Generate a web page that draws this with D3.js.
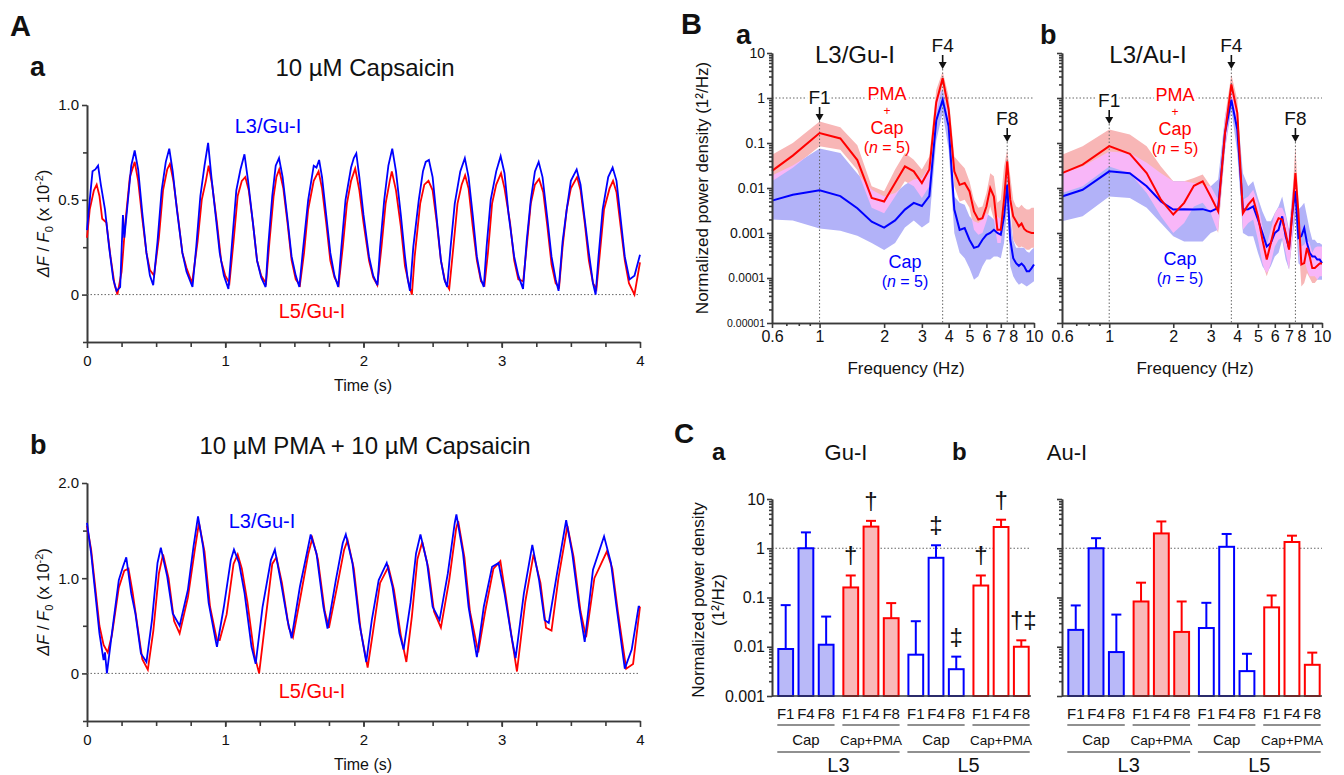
<!DOCTYPE html>
<html>
<head>
<meta charset="utf-8">
<script src="https://cdn.jsdelivr.net/npm/d3@7"></script>
<style>
  body { margin: 0; background: #fff; }
  svg text { font-family: "Liberation Sans", Arial, Helvetica, sans-serif; }
</style>
</head>
<body>
<svg id="fig" width="1344" height="775"></svg>
<script>
// ---------- Panel A: calcium traces, [time (s), dF/F0 (x 10^-2)] ----------
const capBlue = [[0,0.34],[0.02,0.50],[0.04,0.65],[0.06,0.66],[0.08,0.68],[0.10,0.58],[0.13,0.45],[0.16,0.25],[0.19,0.08],[0.214,0.02],[0.24,0.04],[0.26,0.42],[0.27,0.30],[0.29,0.45],[0.32,0.68],[0.345,0.76],[0.37,0.66],[0.40,0.43],[0.43,0.22],[0.455,0.10],[0.479,0.05],
  [0.51,0.28],[0.54,0.55],[0.57,0.70],[0.595,0.77],[0.62,0.65],[0.65,0.45],[0.69,0.22],[0.72,0.12],[0.763,0.04],
  [0.79,0.25],[0.82,0.52],[0.85,0.68],[0.876,0.80],[0.90,0.62],[0.93,0.42],[0.96,0.22],[0.99,0.10],[1.023,0.03],
  [1.05,0.28],[1.08,0.55],[1.11,0.66],[1.139,0.74],[1.165,0.60],[1.20,0.38],[1.23,0.18],[1.26,0.09],[1.292,0.04],
  [1.31,0.25],[1.34,0.52],[1.365,0.68],[1.389,0.72],[1.415,0.62],[1.45,0.40],[1.48,0.20],[1.51,0.10],[1.536,0.04],
  [1.56,0.22],[1.60,0.50],[1.64,0.68],[1.66,0.67],[1.679,0.71],[1.70,0.62],[1.73,0.42],[1.76,0.22],[1.79,0.10],[1.817,0.04],
  [1.84,0.25],[1.87,0.50],[1.91,0.67],[1.93,0.72],[1.948,0.745],[1.97,0.62],[2.00,0.42],[2.04,0.20],[2.07,0.10],[2.101,0.05],
  [2.12,0.25],[2.15,0.50],[2.18,0.68],[2.208,0.77],[2.235,0.65],[2.27,0.42],[2.30,0.20],[2.32,0.08],[2.336,0.02],
  [2.36,0.25],[2.40,0.50],[2.43,0.65],[2.45,0.70],[2.473,0.71],[2.50,0.62],[2.53,0.40],[2.56,0.18],[2.585,0.08],[2.605,0.04],
  [2.63,0.25],[2.66,0.48],[2.70,0.65],[2.733,0.72],[2.76,0.62],[2.79,0.42],[2.82,0.20],[2.85,0.08],[2.870,0.04],
  [2.89,0.25],[2.92,0.50],[2.96,0.65],[2.992,0.73],[3.02,0.64],[3.05,0.42],[3.09,0.20],[3.12,0.10],[3.154,0.03],
  [3.18,0.28],[3.21,0.50],[3.24,0.65],[3.267,0.70],[3.295,0.62],[3.33,0.40],[3.36,0.20],[3.39,0.08],[3.411,0.02],
  [3.44,0.28],[3.47,0.45],[3.50,0.60],[3.542,0.66],[3.57,0.58],[3.60,0.40],[3.63,0.22],[3.66,0.06],[3.679,0.0],
  [3.70,0.20],[3.73,0.45],[3.77,0.62],[3.802,0.67],[3.83,0.60],[3.86,0.40],[3.89,0.20],[3.924,0.08],[3.96,0.10],[4.0,0.21]];

const capRed = [[0,0.30],[0.02,0.45],[0.05,0.55],[0.07,0.58],[0.09,0.52],[0.11,0.40],[0.14,0.38],[0.17,0.20],[0.20,0.05],[0.22,0.0],[0.25,0.12],[0.28,0.40],[0.31,0.62],[0.345,0.70],[0.37,0.60],[0.40,0.40],[0.43,0.22],[0.455,0.13],[0.485,0.10],
  [0.52,0.30],[0.55,0.55],[0.58,0.66],[0.60,0.69],[0.625,0.60],[0.66,0.40],[0.69,0.22],[0.72,0.14],[0.76,0.06],
  [0.80,0.28],[0.83,0.50],[0.86,0.60],[0.88,0.68],[0.905,0.58],[0.94,0.38],[0.97,0.18],[1.00,0.10],[1.03,0.06],
  [1.06,0.28],[1.09,0.52],[1.12,0.60],[1.145,0.62],[1.17,0.55],[1.20,0.38],[1.23,0.18],[1.26,0.10],[1.295,0.06],
  [1.32,0.28],[1.35,0.52],[1.37,0.62],[1.39,0.66],[1.42,0.56],[1.45,0.38],[1.48,0.18],[1.51,0.08],[1.54,0.05],
  [1.57,0.22],[1.60,0.45],[1.64,0.60],[1.675,0.65],[1.70,0.56],[1.73,0.38],[1.76,0.18],[1.79,0.09],[1.82,0.05],
  [1.85,0.25],[1.88,0.48],[1.91,0.60],[1.94,0.665],[1.97,0.55],[2.00,0.38],[2.04,0.18],[2.07,0.09],[2.10,0.05],
  [2.13,0.25],[2.16,0.48],[2.19,0.60],[2.205,0.65],[2.235,0.55],[2.27,0.36],[2.30,0.15],[2.33,0.05],[2.35,0.0],
  [2.37,0.20],[2.41,0.48],[2.44,0.58],[2.47,0.60],[2.50,0.55],[2.53,0.38],[2.56,0.18],[2.59,0.07],[2.62,0.03],
  [2.65,0.25],[2.68,0.48],[2.71,0.58],[2.735,0.63],[2.76,0.56],[2.79,0.36],[2.82,0.18],[2.85,0.07],[2.875,0.05],
  [2.90,0.22],[2.93,0.48],[2.96,0.58],[2.995,0.64],[3.02,0.56],[3.06,0.38],[3.09,0.18],[3.12,0.08],[3.155,0.07],
  [3.18,0.25],[3.21,0.48],[3.24,0.58],[3.27,0.61],[3.30,0.54],[3.33,0.36],[3.36,0.16],[3.39,0.06],[3.415,0.04],
  [3.44,0.25],[3.47,0.45],[3.50,0.56],[3.545,0.62],[3.57,0.55],[3.60,0.38],[3.63,0.18],[3.66,0.06],[3.685,0.03],
  [3.71,0.22],[3.74,0.45],[3.78,0.56],[3.805,0.60],[3.83,0.54],[3.86,0.36],[3.89,0.18],[3.92,0.06],[3.96,0.0],[4.0,0.17]];

const pmaBlue = [[0,1.58],[0.03,1.26],[0.06,0.84],[0.09,0.42],[0.12,0.14],[0.13,0.22],[0.144,0.0],[0.18,0.42],[0.23,0.98],[0.26,1.12],[0.284,1.22],[0.32,0.84],[0.35,0.63],[0.39,0.21],[0.43,0.12],
  [0.47,0.56],[0.51,1.16],[0.534,1.32],[0.58,1.02],[0.62,0.63],[0.67,0.50],[0.73,0.88],[0.77,1.33],[0.803,1.65],[0.84,1.33],[0.88,0.74],[0.93,0.35],[0.94,0.28],
  [0.99,0.70],[1.04,1.19],[1.063,1.30],[1.10,1.16],[1.14,0.84],[1.19,0.28],[1.22,0.10],[1.27,0.70],[1.33,1.19],[1.359,1.30],[1.40,0.98],[1.45,0.56],[1.48,0.37],
  [1.54,0.91],[1.59,1.26],[1.618,1.46],[1.66,1.26],[1.71,0.70],[1.74,0.47],[1.80,0.98],[1.85,1.37],[1.872,1.46],[1.92,1.16],[1.97,0.53],[2.02,0.12],
  [2.06,0.56],[2.11,0.98],[2.168,1.16],[2.21,0.91],[2.26,0.42],[2.29,0.25],[2.34,0.74],[2.38,1.26],[2.412,1.46],[2.46,1.16],[2.50,0.70],[2.55,0.56],
  [2.61,1.05],[2.66,1.58],[2.672,1.67],[2.72,1.26],[2.76,0.70],[2.82,0.17],[2.87,0.70],[2.93,1.12],[2.977,1.16],[3.02,0.84],[3.07,0.39],[3.10,0.16],
  [3.16,0.84],[3.221,1.35],[3.27,0.98],[3.31,0.56],[3.34,0.53],[3.40,1.05],[3.466,1.61],[3.51,1.26],[3.56,0.70],[3.60,0.33],
  [3.66,1.09],[3.74,1.44],[3.79,1.16],[3.83,0.70],[3.89,0.05],[3.94,0.25],[3.99,0.70],[4.0,0.70]];

const pmaRed = [[0,1.55],[0.03,1.30],[0.06,0.90],[0.09,0.50],[0.12,0.30],[0.15,0.22],[0.18,0.40],[0.23,0.90],[0.27,1.08],[0.30,1.10],[0.33,0.85],[0.36,0.55],[0.40,0.15],[0.44,0.04],
  [0.48,0.45],[0.52,1.05],[0.55,1.25],[0.59,1.00],[0.63,0.55],[0.67,0.42],[0.73,0.80],[0.78,1.30],[0.81,1.58],[0.85,1.28],[0.89,0.70],[0.94,0.35],[0.96,0.35],
  [1.01,0.62],[1.06,1.15],[1.09,1.25],[1.12,1.10],[1.16,0.75],[1.21,0.20],[1.245,0.0],[1.29,0.55],[1.34,1.15],[1.37,1.22],[1.41,0.95],[1.46,0.48],[1.49,0.38],
  [1.55,0.85],[1.60,1.25],[1.63,1.42],[1.67,1.20],[1.72,0.65],[1.75,0.48],[1.81,0.92],[1.86,1.30],[1.885,1.40],[1.93,1.10],[1.98,0.45],[2.03,0.06],
  [2.07,0.45],[2.12,0.95],[2.18,1.12],[2.22,0.88],[2.27,0.40],[2.31,0.12],[2.35,0.60],[2.39,1.20],[2.425,1.38],[2.47,1.10],[2.51,0.65],[2.56,0.48],
  [2.62,0.98],[2.67,1.52],[2.685,1.60],[2.73,1.22],[2.77,0.65],[2.83,0.22],[2.88,0.65],[2.94,1.10],[2.99,1.18],[3.03,0.80],[3.08,0.30],[3.11,0.02],
  [3.17,0.75],[3.23,1.25],[3.28,0.95],[3.32,0.48],[3.36,0.45],[3.41,1.00],[3.475,1.55],[3.52,1.22],[3.57,0.65],[3.61,0.38],
  [3.67,1.00],[3.76,1.28],[3.80,1.10],[3.84,0.65],[3.90,0.05],[3.95,0.10],[4.0,0.70]];

// ---------- Panel B: power spectra, log10 of normalized power density ----------
const freqs = [0.6,0.75,1,1.25,1.5,1.75,2,2.25,2.5,2.75,3,3.25,3.5,3.75,4,4.25,4.5,4.75,5,5.25,5.5,5.75,6,6.25,6.5,6.75,7,7.25,7.5,7.75,8,8.25,8.5,8.75,9,9.25,9.5,9.75,10];

const guPma   = [-1.62,-1.28,-0.78,-0.90,-1.38,-2.22,-2.30,-1.89,-1.52,-1.63,-1.89,-1.59,-0.10,0.44,-0.26,-1.63,-1.93,-1.89,-2.07,-2.52,-2.70,-2.67,-2.41,-2.0,-2.19,-2.93,-2.93,-2.26,-1.41,-2.26,-2.63,-2.74,-2.85,-2.79,-2.91,-2.96,-2.98,-3.0,-3.0];
const guPmaHi = [-1.26,-1.0,-0.52,-0.65,-1.05,-1.96,-2.07,-1.59,-1.22,-1.37,-1.59,-1.30,0.18,0.59,0.04,-1.30,-1.44,-1.56,-1.85,-2.26,-2.44,-2.41,-2.11,-1.67,-1.74,-2.33,-2.26,-1.52,-1.15,-1.74,-2.26,-2.41,-2.44,-2.37,-2.44,-2.48,-2.48,-2.44,-2.44];
const guPmaLo = [-1.85,-1.55,-1.07,-1.15,-1.60,-2.44,-2.56,-2.19,-1.85,-1.96,-2.22,-1.96,-0.35,0.30,-0.56,-1.96,-2.30,-2.26,-2.44,-2.93,-3.04,-3.0,-2.74,-2.41,-2.70,-3.22,-3.22,-2.56,-1.67,-2.41,-3.15,-3.26,-3.33,-3.30,-3.33,-3.37,-3.37,-3.33,-3.33];
const guCap   = [-2.28,-2.15,-2.05,-2.18,-2.45,-2.75,-2.88,-2.72,-2.48,-2.33,-2.40,-2.18,-0.50,-0.04,-0.63,-2.48,-2.93,-2.89,-3.15,-3.33,-3.30,-3.15,-3.04,-3.0,-2.93,-3.0,-3.04,-2.63,-1.93,-3.15,-3.56,-3.67,-3.73,-3.68,-3.74,-3.85,-3.85,-3.78,-3.70];
const guCapHi = [-1.72,-1.50,-1.12,-1.22,-1.68,-2.04,-2.19,-2.11,-1.93,-1.81,-1.78,-1.52,-0.05,0.22,-0.37,-2.19,-2.33,-2.37,-2.63,-2.74,-2.78,-2.70,-2.56,-2.63,-2.70,-2.63,-2.70,-2.26,-1.44,-2.63,-3.15,-3.33,-3.33,-3.33,-3.33,-3.41,-3.44,-3.37,-3.33];
const guCapLo = [-2.70,-2.72,-2.90,-2.95,-3.06,-3.22,-3.38,-3.22,-2.88,-2.72,-2.88,-2.76,-0.95,-0.33,-1.15,-3.0,-3.44,-3.56,-3.78,-4.04,-3.96,-3.74,-3.59,-3.59,-3.52,-3.52,-3.56,-3.22,-2.41,-3.74,-3.96,-4.07,-4.15,-4.11,-4.15,-4.19,-4.15,-4.11,-4.07];

const auPma   = [-1.67,-1.48,-1.07,-1.24,-1.67,-2.26,-2.59,-2.33,-1.95,-1.85,-2.19,-2.52,-0.78,0.30,-0.33,-2.56,-2.37,-2.24,-2.63,-3.15,-3.59,-3.22,-2.85,-2.67,-2.70,-3.0,-3.37,-2.56,-1.67,-2.56,-3.70,-3.67,-3.33,-3.52,-3.78,-3.78,-3.73,-3.68,-3.68];
const auPmaHi = [-1.26,-1.07,-0.70,-0.81,-1.07,-1.52,-1.85,-1.85,-1.78,-1.70,-1.96,-2.26,-0.41,0.52,-0.04,-2.26,-2.19,-2.04,-2.33,-2.85,-3.26,-2.93,-2.56,-2.44,-2.44,-2.63,-3.0,-2.19,-1.07,-2.26,-3.30,-3.26,-3.15,-3.22,-3.44,-3.33,-3.30,-3.30,-3.30];
const auPmaLo = [-2.11,-1.96,-1.52,-1.67,-2.11,-2.63,-3.0,-2.78,-2.41,-2.33,-2.56,-3.0,-1.15,0,-0.78,-2.93,-2.78,-2.70,-3.15,-3.67,-3.96,-3.67,-3.30,-3.15,-3.11,-3.44,-3.81,-3.15,-2.19,-3.15,-4.19,-4.11,-3.89,-4.0,-4.11,-4.11,-4.04,-3.96,-3.96];
const auCap   = [-2.19,-2.04,-1.63,-1.67,-1.96,-2.30,-2.48,-2.47,-2.48,-2.47,-2.52,-2.44,-0.78,-0.04,-0.70,-2.48,-2.47,-2.41,-2.70,-3.0,-3.30,-3.22,-3.0,-2.93,-2.63,-3.07,-3.33,-2.56,-2.07,-3.11,-3.07,-2.89,-3.22,-3.44,-3.52,-3.52,-3.59,-3.59,-3.67];
const auCapHi = [-1.67,-1.52,-1.19,-1.22,-1.44,-1.67,-1.85,-1.85,-1.89,-1.93,-1.96,-1.81,-0.41,0.22,-0.26,-1.67,-1.96,-1.85,-2.22,-2.52,-2.74,-2.74,-2.56,-2.41,-2.19,-2.56,-2.93,-2.11,-1.67,-2.48,-2.41,-2.33,-2.63,-2.93,-3.15,-3.15,-3.22,-3.22,-3.26];
const auCapLo = [-2.74,-2.63,-2.19,-2.22,-2.44,-2.78,-3.07,-3.19,-3.19,-3.19,-3.0,-2.93,-1.15,-0.26,-1.22,-3.0,-3.07,-3.07,-3.44,-3.74,-3.89,-3.74,-3.52,-3.44,-3.15,-3.59,-3.81,-3.15,-2.63,-3.67,-3.74,-3.59,-3.81,-3.96,-3.96,-3.96,-4.04,-4.04,-4.04];

const peakFreqs = [1, 3.75, 7.5];
const peakNames = ["F1", "F4", "F8"];

// ---------- Panel C: peak power, mean and upper SEM ----------
const groupDrug  = ["Cap", "Cap+PMA", "Cap", "Cap+PMA"];
const groupLevel = ["L3", "L3", "L5", "L5"];
const guMean = [[0.009, 1.0, 0.011], [0.16, 2.75, 0.038], [0.0069, 0.64, 0.0035], [0.175, 2.7, 0.01]];
const guErr  = [[0.07, 2.1, 0.041], [0.28, 3.6, 0.077], [0.033, 1.15, 0.0063], [0.28, 3.8, 0.0135]];
const guSig  = [["", "", ""], ["†", "†", ""], ["", "‡", "‡"], ["†", "†", "†‡"]];
const auMean = [[0.022, 1.0, 0.0078], [0.083, 2.0, 0.02], [0.024, 1.07, 0.0032], [0.063, 1.34, 0.0043]];
const auErr  = [[0.069, 1.6, 0.045], [0.2, 3.5, 0.083], [0.078, 1.95, 0.0072], [0.11, 1.8, 0.0076]];

// =====================================================================
const svg = d3.select("#fig");
const BLUE = "#0000ff", RED = "#ff0000", AXIS = "#3a3a3a";

function txt(g, x, y, s, o = {}) {
    const t = g.append("text").attr("x", x).attr("y", y).text(s)
        .attr("font-size", o.size || 14)
        .attr("text-anchor", o.anchor || "middle")
        .attr("fill", o.color || "#111");
    if (o.bold) t.attr("font-weight", "bold");
    if (o.halo) t.attr("stroke", "#fff").attr("stroke-width", 6).attr("paint-order", "stroke");
    return t;
}

function styleAxis(g, size) {
    g.selectAll("path, line").attr("stroke", AXIS).attr("stroke-width", 1.6);
    g.selectAll("text").attr("font-size", size).attr("fill", "#111")
        .attr("font-family", '"Liberation Sans", Arial, sans-serif');
    return g;
}

function dotted(g, x1, y1, x2, y2) {
    g.append("line").attr("x1", x1).attr("y1", y1).attr("x2", x2).attr("y2", y2)
        .attr("stroke", "#666").attr("stroke-width", 1).attr("stroke-dasharray", "1.5,2");
}

// --------------------------- Panel A ---------------------------
function drawTrace(o) {
    const g = svg.append("g");
    const x = d3.scaleLinear().domain([0, 4]).range([87, 640]);
    const y = d3.scaleLinear().domain(o.yDomain).range(o.yRange);
    const y0 = o.yRange[0];

    styleAxis(g.append("g").attr("transform", `translate(0,${y0})`)
        .call(d3.axisBottom(x).tickValues(d3.range(0.25, 4, 0.25)).tickSize(5).tickSizeOuter(0).tickFormat("")), 15);
    styleAxis(g.append("g").attr("transform", `translate(0,${y0})`)
        .call(d3.axisBottom(x).tickValues([0, 1, 2, 3, 4]).tickSize(6).tickSizeOuter(0).tickPadding(7).tickFormat(d3.format("d"))), 15);
    styleAxis(g.append("g").attr("transform", "translate(87,0)")
        .call(d3.axisLeft(y).tickValues(o.minor).tickSize(4).tickSizeOuter(0).tickFormat("")), 15);
    styleAxis(g.append("g").attr("transform", "translate(87,0)")
        .call(d3.axisLeft(y).tickValues(o.major).tickSize(5).tickSizeOuter(0).tickPadding(3)
            .tickFormat(d => d === 0 ? "0" : d3.format(".1f")(d))), 15);

    dotted(g, x(0), y(0), x(4), y(0));

    const line = d3.line().x(d => x(d[0])).y(d => y(d[1]));
    g.append("path").datum(o.red).attr("d", line).attr("fill", "none").attr("stroke", RED).attr("stroke-width", 1.8);
    g.append("path").datum(o.blue).attr("d", line).attr("fill", "none").attr("stroke", BLUE).attr("stroke-width", 1.8);

    txt(g, o.blueLab[0], o.blueLab[1], "L3/Gu-I", { size: 20, color: BLUE });
    txt(g, o.redLab[0], o.redLab[1], "L5/Gu-I", { size: 20, color: RED });

    txt(g, 30, o.titleY, o.letter, { size: 27, bold: true, anchor: "start" });
    txt(g, 365, o.titleY, o.title, { size: 24 });
    txt(g, 363, y0 + 49, "Time (s)", { size: 16 });

    const yl = g.append("text").attr("transform", `translate(49,${(o.yRange[0] + o.yRange[1]) / 2}) rotate(-90)`)
        .attr("text-anchor", "middle").attr("font-size", 16.5).attr("fill", "#111");
    yl.append("tspan").attr("font-style", "italic").text("ΔF");
    yl.append("tspan").text(" / ");
    yl.append("tspan").attr("font-style", "italic").text("F");
    yl.append("tspan").attr("font-size", 11).attr("dy", 4).text("0");
    yl.append("tspan").attr("dy", -4).text(" (x 10");
    yl.append("tspan").attr("font-size", 11).attr("dy", -6).text("-2");
    yl.append("tspan").attr("dy", 6).text(")");
}

txt(svg, 10, 36, "A", { size: 29, bold: true, anchor: "start" });
drawTrace({ letter: "a", title: "10 µM Capsaicin", titleY: 76,
    yDomain: [-0.25, 1.0], yRange: [342, 105], major: [0, 0.5, 1.0], minor: [-0.25, 0.25, 0.75],
    blue: capBlue, red: capRed, blueLab: [268, 133], redLab: [312, 318] });
drawTrace({ letter: "b", title: "10 µM PMA + 10 µM Capsaicin", titleY: 454,
    yDomain: [-0.5, 2.0], yRange: [721, 483], major: [0, 1, 2], minor: [-0.5, 0.5, 1.5],
    blue: pmaBlue, red: pmaRed, blueLab: [262, 528], redLab: [312, 698] });

// --------------------------- Panel B ---------------------------
function drawSpectrum(o) {
    const g = svg.append("g");
    const x = d3.scaleLog().domain([0.6, 10]).range([o.x0, o.x1]);
    const y = d3.scaleLog().domain([1e-5, 10]).range([323, 53]);
    const pw = v => y(Math.pow(10, v));

    const minorY = [];
    for (let k = -5; k < 1; k++) for (let m = 2; m < 10; m++) minorY.push(m * Math.pow(10, k));
    const majorY = [1e-5, 1e-4, 1e-3, 1e-2, 0.1, 1, 10];
    const yLabels = ["0.00001", "0.0001", "0.001", "0.01", "0.1", "1", "10"];
    const yLabSize = [10.5, 12, 14, 14, 14, 14, 14];

    // bands: blue first, red blended with "lighten" so overlap turns magenta
    const bands = g.append("g").style("isolation", "isolate");
    const area = (lo, hi) => d3.area().x((d, i) => x(freqs[i])).y0((d, i) => pw(lo[i])).y1((d, i) => pw(hi[i]));
    bands.append("path").datum(freqs).attr("d", area(o.capLo, o.capHi)).attr("fill", "#b2b2f8");
    bands.append("path").datum(freqs).attr("d", area(o.pmaLo, o.pmaHi)).attr("fill", "#f8b6b6")
        .style("mix-blend-mode", "lighten");

    // reference lines
    dotted(g, o.x0, y(1), o.x1, y(1));
    peakFreqs.forEach((f, i) => dotted(g, x(f), o.arrowY[i] + 14, x(f), 323));

    const line = v => d3.line().x((d, i) => x(freqs[i])).y((d, i) => pw(v[i]));
    g.append("path").datum(freqs).attr("d", line(o.cap)).attr("fill", "none").attr("stroke", BLUE).attr("stroke-width", 2);
    g.append("path").datum(freqs).attr("d", line(o.pma)).attr("fill", "none").attr("stroke", RED).attr("stroke-width", 2);

    // axes
    styleAxis(g.append("g").attr("transform", `translate(${o.x0},0)`)
        .call(d3.axisLeft(y).tickValues(minorY).tickSize(3).tickSizeOuter(0).tickFormat("")), 14);
    const yb = g.append("g").attr("transform", `translate(${o.x0},0)`)
        .call(d3.axisLeft(y).tickValues(majorY).tickSize(5).tickSizeOuter(0).tickPadding(2)
            .tickFormat((d, i) => o.labels ? yLabels[i] : ""));
    styleAxis(yb, 14);
    yb.selectAll("text").attr("font-size", (d, i) => yLabSize[i]);

    styleAxis(g.append("g").attr("transform", "translate(0,323)")
        .call(d3.axisBottom(x).tickValues([0.7, 0.8, 0.9]).tickSize(3).tickSizeOuter(0).tickFormat("")), 16);
    styleAxis(g.append("g").attr("transform", "translate(0,323)")
        .call(d3.axisBottom(x).tickValues([0.6, 1, 2, 3, 4, 5, 6, 7, 8, 9, 10]).tickSize(5).tickSizeOuter(0).tickPadding(3)
            .tickFormat(d => d === 9 ? "" : d3.format("~g")(d))), 16);

    // peak arrows
    peakFreqs.forEach((f, i) => {
        const ay = o.arrowY[i];
        txt(g, x(f), ay - 3, peakNames[i], { size: 19, halo: i === 0 });
        g.append("line").attr("x1", x(f)).attr("x2", x(f)).attr("y1", ay).attr("y2", ay + 9)
            .attr("stroke", "#111").attr("stroke-width", 1.6);
        g.append("path").attr("d", `M${x(f) - 4},${ay + 7}L${x(f) + 4},${ay + 7}L${x(f)},${ay + 14}Z`).attr("fill", "#111");
    });

    // legends: stacked labels, spaced so their boxes just clear each other
    const [px, py] = o.pmaLab;
    txt(g, px, py - 5, "PMA", { size: 18, color: RED, halo: true });
    txt(g, px, py + 10, "+", { size: 12, color: RED });
    txt(g, px, py + 29, "Cap", { size: 18, color: RED });
    const n1 = txt(g, px, py + 48, "(", { size: 16, color: RED });
    n1.append("tspan").attr("font-style", "italic").text("n");
    n1.append("tspan").text(" = 5)");

    const [cx, cy] = o.capLab;
    txt(g, cx, cy, "Cap", { size: 18, color: BLUE });
    const n2 = txt(g, cx, cy + 19, "(", { size: 16, color: BLUE });
    n2.append("tspan").attr("font-style", "italic").text("n");
    n2.append("tspan").text(" = 5)");

    txt(g, (o.x0 + o.x1) / 2 + 3, 374, "Frequency (Hz)", { size: 17 });
    txt(g, o.letterX, 44, o.letter, { size: 27, bold: true, anchor: "start" });
    txt(g, o.titleX, 63, o.title, { size: 24 });
}

txt(svg, 681, 34, "B", { size: 29, bold: true, anchor: "start" });
svg.append("text").attr("transform", "translate(708,188) rotate(-90)").attr("text-anchor", "middle")
    .attr("font-size", 17).attr("fill", "#111").text("Normalized power density (1²/Hz)");

drawSpectrum({ x0: 772, x1: 1034, letter: "a", letterX: 736, title: "L3/Gu-I", titleX: 855, labels: true,
    pma: guPma, pmaLo: guPmaLo, pmaHi: guPmaHi, cap: guCap, capLo: guCapLo, capHi: guCapHi,
    arrowY: [107, 55, 128], pmaLab: [887, 105], capLab: [905, 268] });
drawSpectrum({ x0: 1062, x1: 1322, letter: "b", letterX: 1040, title: "L3/Au-I", titleX: 1148, labels: false,
    pma: auPma, pmaLo: auPmaLo, pmaHi: auPmaHi, cap: auCap, capLo: auCapLo, capHi: auCapHi,
    arrowY: [110, 55, 128], pmaLab: [1175, 106], capLab: [1180, 265] });

// --------------------------- Panel C ---------------------------
function drawBars(o) {
    const g = svg.append("g");
    const y = d3.scaleLog().domain([0.001, 10]).range([696, 499]);
    const xg = d3.scaleBand().domain(d3.range(4)).range([o.x0 + 4, o.x1]).paddingInner(0.12).paddingOuter(0.02);
    const xb = d3.scaleBand().domain(peakNames).range([0, xg.bandwidth()]).paddingInner(0.17);

    dotted(g, o.x0, y(1), o.x1, y(1));

    groupDrug.forEach((drug, gi) => {
        const col = drug === "Cap" ? BLUE : RED;
        const fill = groupLevel[gi] === "L3" ? (drug === "Cap" ? "#b9b9f8" : "#f9b9b9") : "#fff";
        peakNames.forEach((p, pi) => {
            const bx = xg(gi) + xb(p), bw = xb.bandwidth(), cxm = bx + bw / 2;
            const top = y(o.mean[gi][pi]), et = y(o.err[gi][pi]);
            g.append("line").attr("x1", cxm).attr("x2", cxm).attr("y1", top).attr("y2", et).attr("stroke", col).attr("stroke-width", 2);
            g.append("line").attr("x1", cxm - 5).attr("x2", cxm + 5).attr("y1", et).attr("y2", et).attr("stroke", col).attr("stroke-width", 2);
            g.append("rect").attr("x", bx + 1).attr("y", top).attr("width", bw - 2).attr("height", 696 - top)
                .attr("fill", fill).attr("stroke", col).attr("stroke-width", 2);
            if (o.sig && o.sig[gi][pi]) txt(g, cxm + (o.sig[gi][pi].length > 1 ? 2 : 0), et - 12, o.sig[gi][pi], { size: 24 });
            txt(g, cxm, 719, p, { size: 15 });
        });
        const gx0 = xg(gi) + xb("F1"), gx1 = xg(gi) + xb("F8") + xb.bandwidth();
        g.append("line").attr("x1", gx0).attr("x2", gx1).attr("y1", 725).attr("y2", 725).attr("stroke", "#222").attr("stroke-width", 1.2);
        txt(g, (gx0 + gx1) / 2, 745, drug, { size: drug === "Cap" ? 15 : 13.5 });
    });
    ["L3", "L5"].forEach((lv, li) => {
        const a = xg(li * 2) + xb("F1"), b = xg(li * 2 + 1) + xb("F8") + xb.bandwidth();
        g.append("line").attr("x1", a).attr("x2", b).attr("y1", 752).attr("y2", 752).attr("stroke", "#222").attr("stroke-width", 1.2);
        txt(g, (a + b) / 2, 772, lv, { size: 20 });
    });

    const minorY = [];
    for (let k = -3; k < 1; k++) for (let m = 2; m < 10; m++) minorY.push(m * Math.pow(10, k));
    styleAxis(g.append("g").attr("transform", `translate(${o.x0},0)`)
        .call(d3.axisLeft(y).tickValues(minorY).tickSize(3).tickSizeOuter(0).tickFormat("")), 16);
    styleAxis(g.append("g").attr("transform", `translate(${o.x0},0)`)
        .call(d3.axisLeft(y).tickValues([0.001, 0.01, 0.1, 1, 10]).tickSize(5).tickSizeOuter(0).tickPadding(2)
            .tickFormat(d => o.labels ? d3.format("~g")(d) : "")), 16);
    g.append("line").attr("x1", o.x0).attr("x2", o.x1).attr("y1", 696).attr("y2", 696).attr("stroke", AXIS).attr("stroke-width", 1.6);

    txt(g, o.letterX, 460, o.letter, { size: 24, bold: true, anchor: "start" });
    txt(g, o.titleX, 460, o.title, { size: 22 });
}

txt(svg, 674, 443, "C", { size: 28, bold: true, anchor: "start" });
const cyl = svg.append("text").attr("transform", "translate(704,600) rotate(-90)").attr("text-anchor", "middle")
    .attr("font-size", 17).attr("fill", "#111");
cyl.append("tspan").attr("x", 0).attr("dy", 0).text("Normalized power density");
cyl.append("tspan").attr("x", 0).attr("dy", 20).text("(1²/Hz)");

drawBars({ x0: 772, x1: 1031, mean: guMean, err: guErr, sig: guSig, labels: true, letter: "a", letterX: 712, title: "Gu-I", titleX: 846 });
drawBars({ x0: 1062, x1: 1322, mean: auMean, err: auErr, sig: null, labels: false, letter: "b", letterX: 952, title: "Au-I", titleX: 1067 });
</script>
</body>
</html>
